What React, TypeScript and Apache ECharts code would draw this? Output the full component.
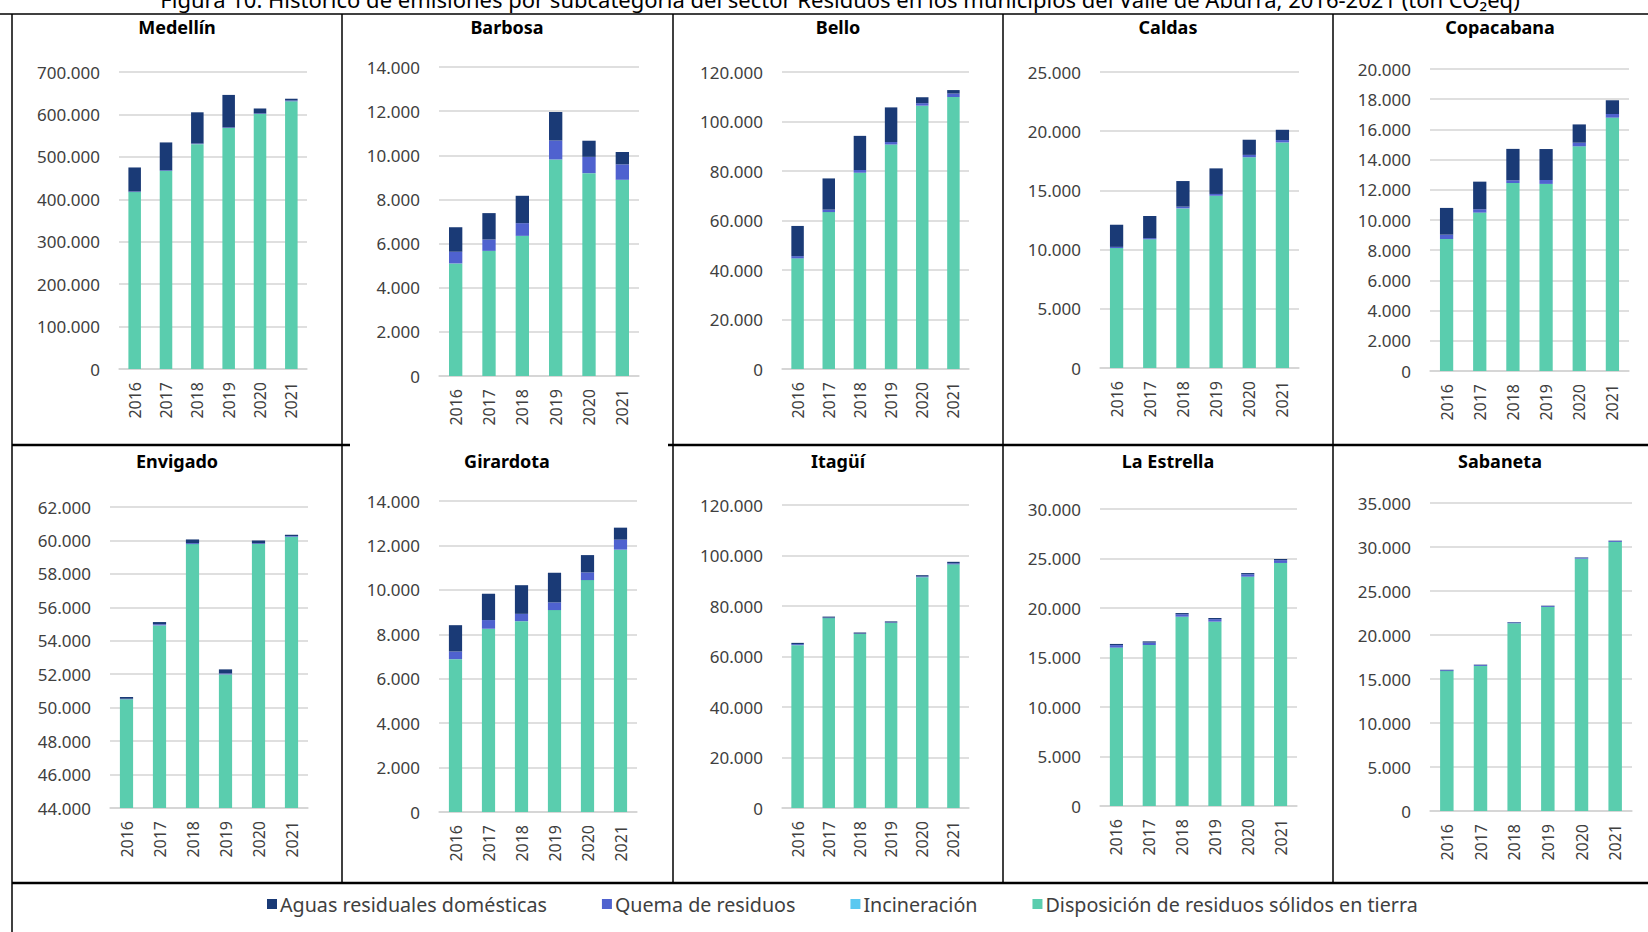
import React, { useEffect, useRef } from 'react';
import * as echarts from 'echarts';

const years = ['2016', '2017', '2018', '2019', '2020', '2021'];
const municipios = ['Medellín', 'Barbosa', 'Bello', 'Caldas', 'Copacabana', 'Envigado', 'Girardota', 'Itagüí', 'La Estrella', 'Sabaneta'];
const nombreAguas = 'Aguas residuales domésticas';
const nombreQuema = 'Quema de residuos';
const nombreIncineracion = 'Incineración';
const nombreDisposicion = 'Disposición de residuos sólidos en tierra';
const tituloFigura = 'Figura 10. Histórico de emisiones por subcategoría del sector Residuos en los municipios del Valle de Aburrá, 2016-2021 (ton CO₂eq)';

// one row per municipio, values 2016..2021 (ton CO2eq)
const disposicion = [
  [417000, 467000, 530000, 568000, 601000, 631000],
  [5100, 5670, 6350, 9810, 9190, 8890],
  [44700, 63400, 79300, 90700, 106400, 109900],
  [10130, 10870, 13480, 14550, 17800, 19050],
  [8740, 10490, 12450, 12390, 14880, 16780],
  [50500, 54920, 59780, 51990, 59780, 60220],
  [6880, 8250, 8590, 9090, 10440, 11810],
  [64500, 75200, 68900, 73300, 91400, 96500],
  [16000, 16260, 19120, 18620, 23160, 24550],
  [15900, 16480, 21330, 23180, 28670, 30570],
];
const incineracion = [
  [0, 0, 0, 0, 0, 0],
  [0, 0, 0, 0, 0, 0],
  [0, 0, 0, 0, 0, 0],
  [0, 0, 0, 0, 0, 0],
  [0, 0, 0, 0, 0, 0],
  [0, 0, 0, 0, 0, 0],
  [0, 0, 0, 0, 0, 0],
  [0, 0, 0, 0, 0, 0],
  [0, 0, 0, 0, 0, 0],
  [0, 0, 0, 0, 0, 0],
];
const quema = [
  [1500, 1500, 1500, 1500, 1500, 2000],
  [530, 515, 575, 860, 740, 700],
  [900, 1000, 1100, 1000, 1000, 1400],
  [100, 100, 150, 150, 200, 200],
  [290, 220, 180, 260, 240, 240],
  [40, 70, 60, 60, 50, 40],
  [345, 390, 330, 345, 345, 450],
  [400, 200, 200, 200, 300, 400],
  [250, 250, 250, 250, 250, 280],
  [100, 100, 100, 100, 100, 100],
];
const aguas = [
  [56500, 65500, 73500, 76500, 11500, 4000],
  [1110, 1195, 1240, 1290, 730, 560],
  [12200, 12600, 13800, 14000, 2400, 1400],
  [1870, 1870, 2160, 2160, 1280, 870],
  [1770, 1830, 2080, 2050, 1210, 910],
  [100, 130, 220, 240, 170, 80],
  [1185, 1185, 1290, 1335, 780, 540],
  [500, 400, 400, 400, 500, 600],
  [120, 120, 120, 120, 120, 120],
  [50, 50, 50, 50, 50, 50],
];

const yMin = [0, 0, 0, 0, 0, 44000, 0, 0, 0, 0];
const yMax = [700000, 14000, 120000, 25000, 20000, 62000, 14000, 120000, 30000, 35000];
const yStep = [100000, 2000, 20000, 5000, 2000, 2000, 2000, 20000, 5000, 5000];

// layout: [left, right, top, bottom] of each plot area, in px
const gridRects = [
  [119, 307, 72, 369],
  [439, 639, 67, 376],
  [782, 969, 72, 369],
  [1100, 1299, 72, 368],
  [1430, 1629, 69, 371],
  [110, 308, 507, 808],
  [439, 637, 501, 812],
  [782, 969, 505, 808],
  [1100, 1297, 509, 806],
  [1430, 1632, 503, 811],
];
const titleX = [177, 507, 838, 1168, 1500, 177, 507, 838, 1168, 1500];
const titleY = [27, 27, 27, 27, 27, 461, 461, 461, 461, 461];

const FONT = "'Noto Sans', 'Open Sans', sans-serif";
const C_AGUAS = '#1a3a76';
const C_QUEMA = '#4f62cf';
const C_INC = '#5ac8f0';
const C_DISP = '#5acdae';

const fmt = (v: number) => String(v).replace(/\B(?=(\d{3})+(?!\d))/g, '.');

function buildOption() {
  const grids: any[] = [];
  const xAxes: any[] = [];
  const yAxes: any[] = [];
  const series: any[] = [];
  const graphics: any[] = [];

  municipios.forEach((m, i) => {
    const [l, r, t, b] = gridRects[i];
    grids.push({ left: l, top: t, width: r - l, height: b - t, containLabel: false });
    xAxes.push({
      type: 'category', gridIndex: i, data: years,
      axisTick: { show: false },
      axisLine: { lineStyle: { color: '#d4d4d4', width: 1.5 } },
      axisLabel: { rotate: 90, fontSize: 16, color: '#404040', fontFamily: FONT, margin: 13 },
    });
    yAxes.push({
      type: 'value', gridIndex: i, min: yMin[i], max: yMax[i], interval: yStep[i],
      axisLine: { show: false }, axisTick: { show: false },
      splitLine: { lineStyle: { color: '#d4d4d4', width: 1.5 } },
      axisLabel: { fontSize: 17, color: '#404040', fontFamily: FONT, margin: 19, formatter: fmt },
    });
    const common = { type: 'bar', xAxisIndex: i, yAxisIndex: i, stack: 'p' + i, barWidth: '40%' };
    series.push({ ...common, name: nombreDisposicion, data: disposicion[i], itemStyle: { color: C_DISP } });
    series.push({ ...common, name: nombreIncineracion, data: incineracion[i], itemStyle: { color: C_INC } });
    series.push({ ...common, name: nombreQuema, data: quema[i], itemStyle: { color: C_QUEMA } });
    series.push({ ...common, name: nombreAguas, data: aguas[i], itemStyle: { color: C_AGUAS } });
    graphics.push({
      type: 'text', x: titleX[i], y: titleY[i],
      style: { text: m, fontSize: 18, fontWeight: 'bold', fontFamily: FONT, fill: '#000', align: 'center', verticalAlign: 'middle' },
    });
  });

  const line = (x1: number, y1: number, x2: number, y2: number, w = 1.5) => ({
    type: 'line', shape: { x1, y1, x2, y2 }, style: { stroke: '#000', lineWidth: w },
  });
  graphics.push(line(0, 14, 1648, 14, 1.5));
  graphics.push(line(12, 14, 12, 932, 1.5));
  [342, 673, 1003, 1333].forEach((x) => graphics.push(line(x, 14, x, 883, 1.5)));
  graphics.push(line(12, 445, 350, 445, 2.5));
  graphics.push(line(668, 445, 1648, 445, 2.5));
  graphics.push(line(12, 883, 1648, 883, 2.5));
  graphics.push({
    type: 'text', x: 840, y: -1,
    style: { text: tituloFigura, fontSize: 22, fontFamily: FONT, fill: '#000', align: 'center', verticalAlign: 'middle' },
  });

  return {
    animation: false,
    backgroundColor: '#fff',
    grid: grids,
    xAxis: xAxes,
    yAxis: yAxes,
    series,
    legend: {
      data: [nombreAguas, nombreQuema, nombreIncineracion, nombreDisposicion],
      left: 262, top: 889, icon: 'rect', itemWidth: 10, itemHeight: 10, itemGap: 55,
      textStyle: { fontSize: 19.7, color: '#404040', fontFamily: FONT, padding: [0, 0, 0, -2] },
    },
    graphic: graphics,
  };
}

export default function App() {
  const ref = useRef<HTMLDivElement>(null);
  useEffect(() => {
    document.body.style.margin = '0';
    const chart = echarts.init(ref.current as HTMLDivElement, null, { renderer: 'svg' });
    chart.setOption(buildOption() as any);
    return () => chart.dispose();
  }, []);
  return <div ref={ref} style={{ width: 1648, height: 932, background: '#fff' }} />;
}
